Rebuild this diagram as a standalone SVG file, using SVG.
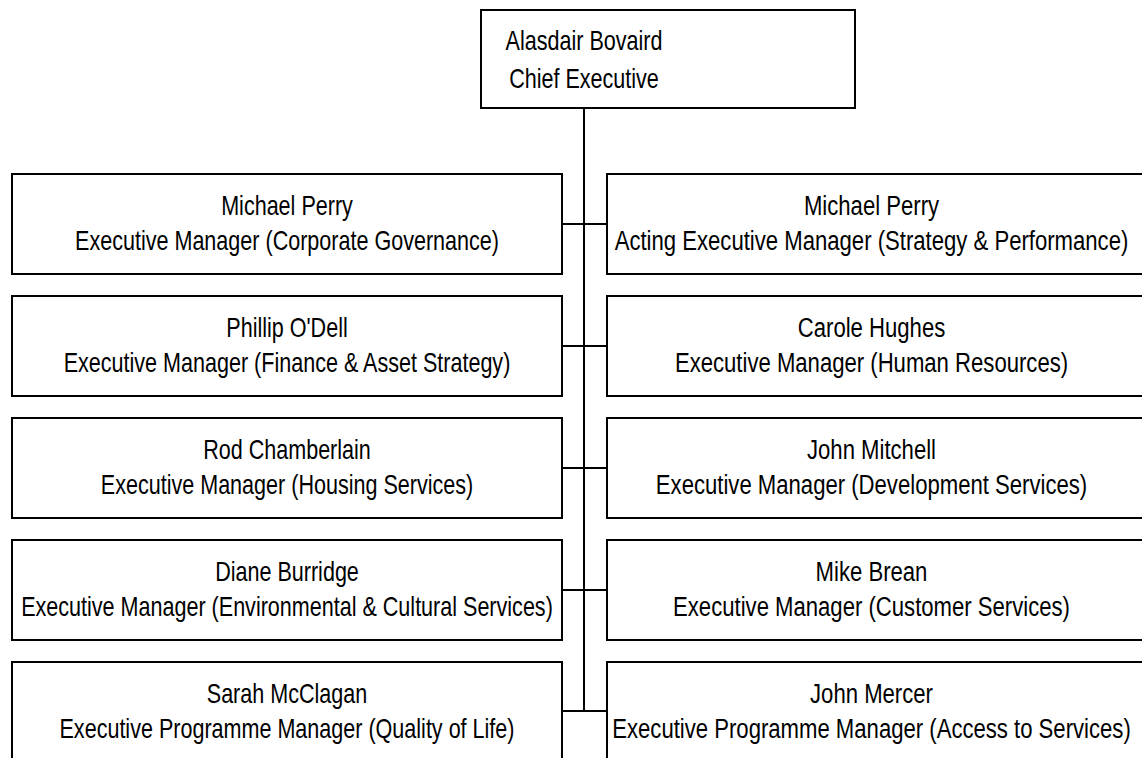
<svg xmlns="http://www.w3.org/2000/svg" width="1142" height="758" viewBox="0 0 1142 758">
<style>
.box{fill:#fff;stroke:#000;stroke-width:2}
.ln{stroke:#000;stroke-width:2;fill:none}
text{font-family:"Liberation Sans",Arial,sans-serif;font-size:28px;fill:#000;text-anchor:middle}
</style>
<rect width="1142" height="758" fill="#fff"/>
<g id="connectors">
<line class="ln" x1="584" y1="108" x2="584" y2="711"/>
<line class="ln" x1="562" y1="224" x2="607" y2="224"/>
<line class="ln" x1="562" y1="346" x2="607" y2="346"/>
<line class="ln" x1="562" y1="468" x2="607" y2="468"/>
<line class="ln" x1="562" y1="590" x2="607" y2="590"/>
<line class="ln" x1="562" y1="711" x2="607" y2="711"/>
</g>
<g id="ceo">
<rect class="box" x="481" y="10" width="374" height="98"/>
<text transform="translate(584,50) scale(0.77,1)">Alasdair Bovaird</text>
<text transform="translate(584,87.5) scale(0.77,1)">Chief Executive</text>
</g>
<g id="l1">
<rect class="box" x="12" y="174" width="550" height="100"/>
<text transform="translate(287,214.5) scale(0.77,1)">Michael Perry</text>
<text transform="translate(287,250) scale(0.77,1)">Executive Manager (Corporate Governance)</text>
</g>
<g id="r1">
<rect class="box" x="607" y="174" width="540" height="100"/>
<text transform="translate(871.5,214.5) scale(0.79,1)">Michael Perry</text>
<text transform="translate(871.5,250) scale(0.79,1)">Acting Executive Manager (Strategy &amp; Performance)</text>
</g>
<g id="l2">
<rect class="box" x="12" y="296" width="550" height="100"/>
<text transform="translate(287,336.5) scale(0.77,1)">Phillip O'Dell</text>
<text transform="translate(287,372) scale(0.77,1)">Executive Manager (Finance &amp; Asset Strategy)</text>
</g>
<g id="r2">
<rect class="box" x="607" y="296" width="540" height="100"/>
<text transform="translate(871.5,336.5) scale(0.79,1)">Carole Hughes</text>
<text transform="translate(871.5,372) scale(0.79,1)">Executive Manager (Human Resources)</text>
</g>
<g id="l3">
<rect class="box" x="12" y="418" width="550" height="100"/>
<text transform="translate(287,458.5) scale(0.77,1)">Rod Chamberlain</text>
<text transform="translate(287,494) scale(0.77,1)">Executive Manager (Housing Services)</text>
</g>
<g id="r3">
<rect class="box" x="607" y="418" width="540" height="100"/>
<text transform="translate(871.5,458.5) scale(0.79,1)">John Mitchell</text>
<text transform="translate(871.5,494) scale(0.79,1)">Executive Manager (Development Services)</text>
</g>
<g id="l4">
<rect class="box" x="12" y="540" width="550" height="100"/>
<text transform="translate(287,580.5) scale(0.77,1)">Diane Burridge</text>
<text transform="translate(287,616) scale(0.77,1)">Executive Manager (Environmental &amp; Cultural Services)</text>
</g>
<g id="r4">
<rect class="box" x="607" y="540" width="540" height="100"/>
<text transform="translate(871.5,580.5) scale(0.79,1)">Mike Brean</text>
<text transform="translate(871.5,616) scale(0.79,1)">Executive Manager (Customer Services)</text>
</g>
<g id="l5">
<rect class="box" x="12" y="662" width="550" height="100"/>
<text transform="translate(287,702.5) scale(0.77,1)">Sarah McClagan</text>
<text transform="translate(287,738) scale(0.77,1)">Executive Programme Manager (Quality of Life)</text>
</g>
<g id="r5">
<rect class="box" x="607" y="662" width="540" height="100"/>
<text transform="translate(871.5,702.5) scale(0.79,1)">John Mercer</text>
<text transform="translate(871.5,738) scale(0.79,1)">Executive Programme Manager (Access to Services)</text>
</g>
</svg>
